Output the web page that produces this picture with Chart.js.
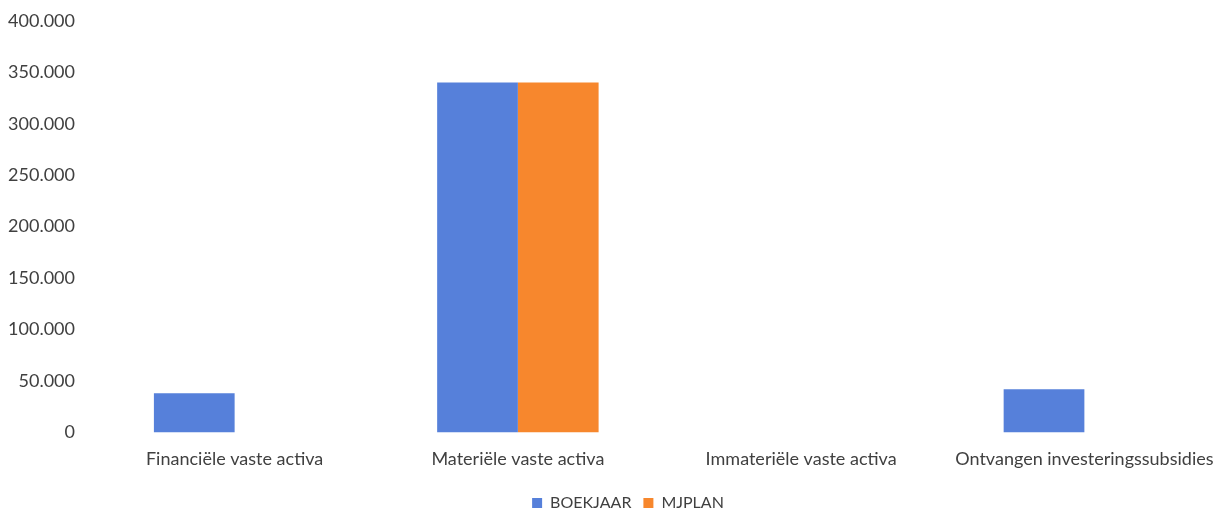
<!DOCTYPE html>
<html><head><meta charset="utf-8">
<script src="https://cdn.jsdelivr.net/npm/chart.js@4/dist/chart.umd.min.js"></script>
<style>html,body{margin:0;padding:0;background:#fff;overflow:hidden}#wrap{width:1226px;height:521px}</style>
</head><body><div id="wrap"><canvas id="c" width="1226" height="521"></canvas></div>
<script>
const categories = ["Financiële vaste activa","Materiële vaste activa","Immateriële vaste activa","Ontvangen investeringssubsidies"];
const boekjaar = [38000, 340000, 0, 42000];
const mjplan = [0, 340000, 0, 0];
const yTicks = [0, 50000, 100000, 150000, 200000, 250000, 300000, 350000, 400000];
const fmt = v => v === 0 ? "0" : (v/1000).toFixed(0) + ".000";
Chart.defaults.font.family = "Lato, 'Open Sans', sans-serif";
Chart.defaults.color = "#404040";
const legendShift = {
  id: 'legendShift',
  afterLayout(chart) { const l = chart.legend; if (l) { l.left += 15; l.right += 15; } }
};
new Chart(document.getElementById('c'), {
  type: 'bar',
  data: { labels: categories, datasets: [
    {label: 'BOEKJAAR', data: boekjaar, backgroundColor: '#5680da', categoryPercentage: 0.57, barPercentage: 1.0},
    {label: 'MJPLAN', data: mjplan, backgroundColor: '#f7872d', categoryPercentage: 0.57, barPercentage: 1.0}
  ]},
  plugins: [legendShift],
  options: {
    responsive: false, animation: false,
    layout: {padding: {top: 1, right: 0, left: 0, bottom: 0}},
    plugins: {
      legend: {position: 'bottom', labels: {boxWidth: 10, boxHeight: 10, padding: 12, font: {size: 16}, color: '#404040'}},
      tooltip: {enabled: false}
    },
    scales: {
      x: {grid: {display: false}, border: {display: false}, ticks: {font: {size: 18}, padding: 8, maxRotation: 0, autoSkip: false},
          afterFit: s => { s.height += 5; }},
      y: {min: 0, max: 400000, grid: {display: false}, border: {display: false},
          afterFit: s => { s.width = 93; },
          afterBuildTicks: s => { s.ticks = yTicks.map(v => ({value: v})); },
          ticks: {font: {size: 18}, padding: 10, callback: v => fmt(v)}}
    }
  }
});
</script></body></html>
